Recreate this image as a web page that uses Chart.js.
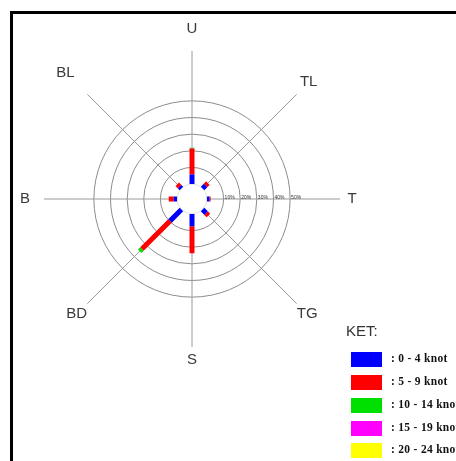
<!DOCTYPE html>
<html lang="id">
<head>
<meta charset="utf-8">
<style>
  html, body { margin: 0; padding: 0; background: #fff; overflow: hidden; }
  #frame { position: absolute; left: 10px; top: 11px; width: 520px; height: 520px; border: 3px solid #000; }
  #wrap { position: absolute; left: 0; top: 0; width: 456px; height: 461px; }
  #ket { position: absolute; left: 346px; top: 322px; font: 15px "Liberation Sans", Arial, sans-serif; color: #333; }
  .item { position: absolute; left: 351px; width: 31px; height: 15px; }
  .lbl { position: absolute; left: 391px; font: bold 11.5px "Liberation Serif", "Times New Roman", serif; color: #111; white-space: nowrap; letter-spacing: 0.3px; }
</style>
</head>
<body>
<div id="frame"></div>
<div id="wrap"><canvas id="myChart"></canvas></div>
<div id="ket">KET:</div>
<div id="legend"></div>
<script src="https://cdn.jsdelivr.net/npm/chart.js"></script>
<script>
// directions, clockwise from north (U)
const directions = ['U', 'TL', 'T', 'TG', 'S', 'BD', 'B', 'BL'];
const speedClasses = [': 0 - 4 knot', ': 5 - 9 knot', ': 10 - 14 knot', ': 15 - 19 knot', ': 20 - 24 knot'];
// frequency (%) per direction for each speed class
const speed0to4   = [5.8, 2.5, 1.5, 3.0, 7.4, 9.6, 2.0, 1.5];
const speed5to9   = [15.6, 2.0, 0.7, 2.0, 16.2, 24.0, 3.0, 2.0];
const speed10to14 = [0.4, 0, 0, 0, 0, 1.8, 0, 0];
const speed15to19 = [0, 0, 0, 0, 0, 0, 0, 0];
const speed20to24 = [0, 0, 0, 0, 0, 0, 0, 0];
const ringValues = [10, 20, 30, 40, 50];
const ringLabels = ['10%', '20%', '30%', '40%', '50%'];

const series = [speed0to4, speed5to9, speed10to14, speed15to19, speed20to24];
const colors = ['#0000ff', '#ff0000', '#00e000', '#ff00ff', '#ffff00'];

// layout constants
const HOLE = 9;      // calm circle, in % units
const RMAX = 89;     // end of the direction lines
const LABEL_DIST = [170, 165, 160, 163, 161, 163, 167, 179];

// build the stacked radial segments
const datasets = [];
const cum = directions.map(() => 0);
series.forEach((vals, s) => {
  const pts = [];
  vals.forEach((v, i) => {
    if (v > 0) {
      const a = i * Math.PI / 4;
      const r0 = HOLE + cum[i];
      const r1 = HOLE + cum[i] + v;
      pts.push({x: r0 * Math.sin(a), y: r0 * Math.cos(a)});
      pts.push({x: r1 * Math.sin(a), y: r1 * Math.cos(a)});
      pts.push({x: null, y: null});
    }
    cum[i] += v;
  });
  datasets.push({
    label: speedClasses[s],
    data: pts,
    showLine: true,
    spanGaps: false,
    borderColor: colors[s],
    backgroundColor: colors[s],
    borderWidth: 5,
    borderCapStyle: 'butt',
    pointRadius: 0,
    pointHoverRadius: 0
  });
});

const roseDecor = {
  id: 'roseDecor',
  beforeDatasetsDraw(chart) {
    const r = chart.scales.r;
    const ctx = chart.ctx;
    ctx.save();
    ctx.beginPath();
    ctx.arc(r.xCenter, r.yCenter, r.getDistanceFromCenterForValue(HOLE), 0, Math.PI * 2);
    ctx.fillStyle = '#fff';
    ctx.fill();
    ctx.strokeStyle = '#e2e2e2';
    ctx.lineWidth = 1;
    ctx.stroke();
    ctx.restore();
  },
  afterDatasetsDraw(chart) {
    const r = chart.scales.r;
    const ctx = chart.ctx;
    ctx.save();
    // ring percentages along the T axis
    ctx.font = '5px "Liberation Sans", Arial, sans-serif';
    ctx.fillStyle = '#333';
    ctx.textAlign = 'left';
    ctx.textBaseline = 'bottom';
    ringValues.forEach((v, k) => {
      const d = r.getDistanceFromCenterForValue(HOLE + v);
      ctx.fillText(ringLabels[k], r.xCenter + d + 1, r.yCenter + 1);
    });
    // direction names
    ctx.font = '15px "Liberation Sans", Arial, sans-serif';
    ctx.fillStyle = '#3a3a3a';
    ctx.textAlign = 'center';
    ctx.textBaseline = 'middle';
    directions.forEach((name, i) => {
      const p = r.getPointPosition(i, LABEL_DIST[i]);
      ctx.fillText(name, p.x, p.y);
    });
    ctx.restore();
  }
};

const config = {
  type: 'scatter',
  data: { labels: directions, datasets: datasets },
  options: {
    responsive: true,
    maintainAspectRatio: false,
    animation: false,
    events: [],
    layout: { padding: { left: 44, top: 51, right: 116, bottom: 114 } },
    plugins: { legend: { display: false }, tooltip: { enabled: false } },
    scales: {
      x: { type: 'linear', display: false, min: -RMAX, max: RMAX },
      y: { type: 'linear', display: false, min: -RMAX, max: RMAX },
      r: {
        type: 'radialLinear',
        min: 0,
        max: RMAX,
        afterBuildTicks: (scale) => {
          scale.ticks = [{value: 0}].concat(ringValues.map(v => ({value: HOLE + v})));
        },
        ticks: { display: false },
        pointLabels: { display: false },
        grid: { circular: true, color: '#8c8c8c', lineWidth: 1 },
        angleLines: { color: '#9a9a9a', lineWidth: 1 }
      }
    }
  },
  plugins: [roseDecor]
};

const myChart = new Chart(document.getElementById('myChart'), config);

// legend
const legend = document.getElementById('legend');
const boxTops = [352, 375, 398, 421, 443];
speedClasses.forEach((txt, s) => {
  const box = document.createElement('div');
  box.className = 'item';
  box.style.top = boxTops[s] + 'px';
  box.style.background = colors[s];
  legend.appendChild(box);
  const lbl = document.createElement('div');
  lbl.className = 'lbl';
  lbl.style.top = (boxTops[s] + 0) + 'px';
  lbl.textContent = txt;
  legend.appendChild(lbl);
});
</script>
</body>
</html>
